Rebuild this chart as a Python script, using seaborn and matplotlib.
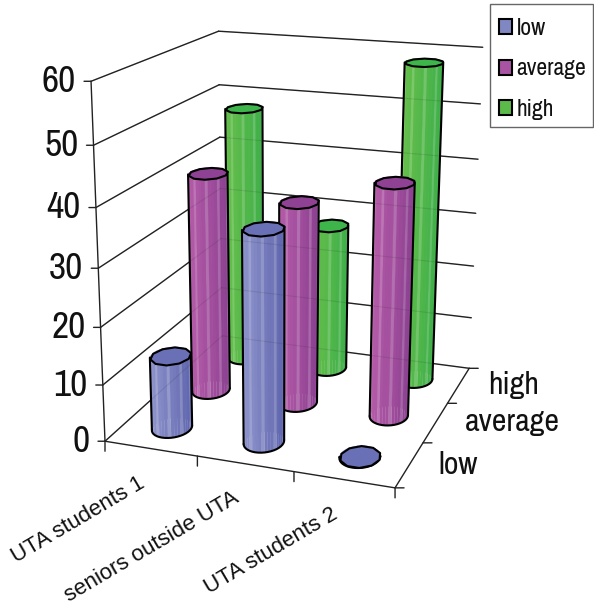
import numpy as np
import matplotlib
matplotlib.use('Agg')
import matplotlib.pyplot as plt
import seaborn as sns
from matplotlib.patches import Patch, Rectangle
from mpl_toolkits.mplot3d import proj3d
from mpl_toolkits.mplot3d.art3d import Poly3DCollection

categories = ['UTA students 1', 'seniors outside UTA', 'UTA students 2']
series = ['low', 'average', 'high']
low_values = [13, 36.7, 0.1]
average_values = [40, 36.5, 41.4]
high_values = [47.9, 27.6, 58.3]
z_ticks = [0, 10, 20, 30, 40, 50, 60]

sns.set_theme(style='white')
plt.rcParams['font.family'] = ['Liberation Sans', 'DejaVu Sans']
narrow = ['Archivo Narrow', 'Liberation Sans']

# side shading goes light to dark, top is one flat colour
shades = {
    'low': sns.blend_palette(['#5f65ad', '#8d93cb'], 12),
    'average': sns.blend_palette(['#8a3f90', '#b55ca8'], 12),
    'high': sns.blend_palette(['#3cae49', '#66bf4b'], 12),
}
tops = {'low': '#6a70b6', 'average': '#8f4193', 'high': '#3db54a'}

fig = plt.figure(figsize=(5.94, 6.08), dpi=100)
ax = fig.add_axes([24.3 / 594, 94.4 / 608, 534.7 / 594, 534.7 / 608], projection='3d', computed_zorder=False)
ax.set_xlim(0, 3)
ax.set_ylim(0, 3)
ax.set_zlim(0, 60)
ax.view_init(elev=17.234, azim=-70.872, roll=-0.257)
ax.set_proj_type('persp', focal_length=0.5007)
ax.set_box_aspect((0.8244, 0.8540, 1.0))
ax.set_axis_off()
M = ax.get_proj()


def to2d(x, y, z):
    px, py, _ = proj3d.proj_transform(np.asarray(x, float), np.asarray(y, float), np.asarray(z, float), M)
    return px, py


def tick(x, y, z, dx, dy):
    ax.annotate('', xy=to2d(x, y, z), xytext=(dx, dy), textcoords='offset pixels',
                arrowprops=dict(arrowstyle='-', lw=1, color='#222222', shrinkA=0, shrinkB=0))


def label(text, x, y, z, dx, dy, **kw):
    ax.annotate(text, xy=to2d(x, y, z), xytext=(dx, dy), textcoords='offset pixels', color='#111111', **kw)


def column(xc, yc, val, name, zo):
    n = 40
    rx, ry = 0.195, 0.24
    th = np.linspace(0, 2 * np.pi, n + 1)
    xs = xc + rx * np.cos(th)
    ys = yc + ry * np.sin(th)
    px, py = to2d(xs, ys, np.zeros(n + 1))
    tx, ty = to2d(xs, ys, np.full(n + 1, val))
    left, right = np.argmin(tx[:-1]), np.argmax(tx[:-1])
    pal = shades[name]
    quads, cols = [], []
    for i in range(n):
        quads.append([(xs[i], ys[i], 0), (xs[i + 1], ys[i + 1], 0), (xs[i + 1], ys[i + 1], val), (xs[i], ys[i], val)])
        frac = (tx[i] - tx[left]) / max(tx[right] - tx[left], 1e-9)
        c = np.array(pal[int(round((1 - frac) * 11))])
        if i % 4 == 0:
            c = c + (1 - c) * 0.18
        cols.append(c)
    ax.add_collection3d(Poly3DCollection(quads, facecolors=cols, edgecolors=cols, linewidths=0.2, zorder=zo))
    step = n // 10
    ring = [(xs[i], ys[i], val) for i in range(0, n, step)]
    ax.add_collection3d(Poly3DCollection([ring], facecolors=tops[name], edgecolors='black', linewidths=1.5, zorder=zo + 0.2))
    # outline down both sides and round the front of the base (lower on screen = smaller 2d y)
    a, b = sorted((left, right))
    arc1 = np.arange(a, b + 1)
    arc2 = np.r_[b:n, 0:a + 1]
    front = arc1 if py[arc1].mean() < py[arc2].mean() else arc2
    ax.plot(xs[front], ys[front], 0, color='black', lw=1.5, zorder=zo + 0.1)
    for k in (left, right):
        ax.plot([xs[k], xs[k]], [ys[k], ys[k]], [0, val], color='black', lw=1.5, zorder=zo + 0.1)


# walls and floor
line = dict(color='#222222', lw=1, zorder=1)
for z in z_ticks:
    ax.plot([0, 0], [0, 3], [z, z], **line)
    ax.plot([0, 3], [3, 3], [z, z], **line)
    # the reference shows the wall lines faintly through the columns
    ax.plot([0, 0], [0, 3], [z, z], color='#222222', lw=0.8, alpha=0.12, zorder=9)
    ax.plot([0, 3], [3, 3], [z, z], color='#222222', lw=0.8, alpha=0.12, zorder=9)
    tick(0, 0, z, -7, 0)
    label(str(z), 0, 0, z, -15, 0, ha='right', va='center', fontsize=27, family=narrow)
ax.plot([0, 0], [0, 0], [0, 60], **line)
ax.plot([0, 3, 3], [0, 0, 3], [0, 0, 0], **line)
for i in range(4):
    tick(i, 0, 0, 0, -10)
    tick(3, i, 0, 9, 0)

for i, c in enumerate(categories):
    label(c, i + 0.5, 0, 0, -13, -24, ha='right', va='top', rotation=30.5, rotation_mode='anchor', fontsize=16)
for i, s in enumerate(series):
    label(s, 3, i + 0.5, 0, 29, 0, ha='left', va='center', fontsize=23, family=narrow)

rows = {'high': high_values, 'average': average_values, 'low': low_values}
for name, values in rows.items():
    yc = series.index(name) + 0.5
    zo = 2 + 2 * (2 - series.index(name))
    for i, v in enumerate(values):
        column(i + 0.5, yc, v, name, zo)

handles = [Patch(facecolor=shades[s][8], edgecolor='black', lw=1.5, label=s) for s in series]
fig.legend(handles=handles, loc='upper left', bbox_to_anchor=(490 / 594, 1 - 9 / 608), borderaxespad=0,
           prop=dict(family=narrow, size=17), frameon=False,
           handlelength=0.55, handleheight=0.6, handletextpad=0.2, labelspacing=0.82, borderpad=0.38,
           labelcolor='#111111')
fig.add_artist(Rectangle((490 / 594, 1 - 127 / 608), 103 / 594, 123 / 608, transform=fig.transFigure,
                         fill=False, edgecolor='#666666', lw=1))
fig.savefig('out.png', dpi=100)
